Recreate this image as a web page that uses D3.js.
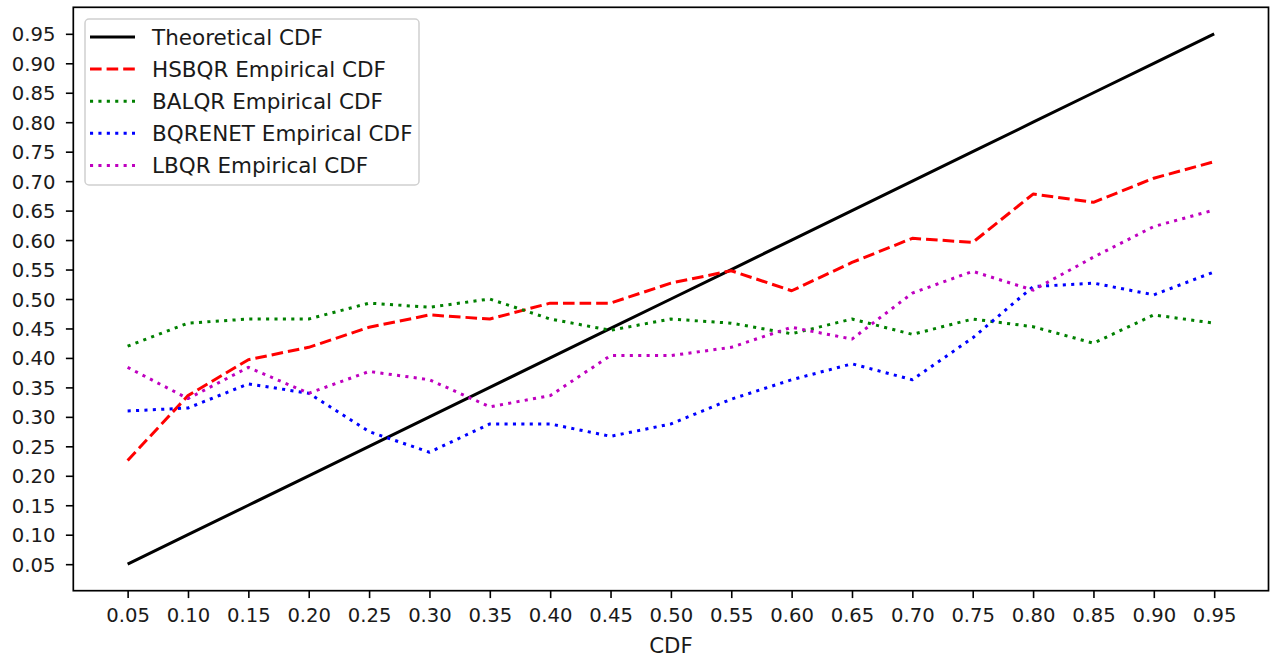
<!DOCTYPE html>
<html>
<head>
<meta charset="utf-8">
<script src="https://cdn.jsdelivr.net/npm/d3@7"></script>
<style>
  html, body { margin: 0; padding: 0; background: #fff; }
  svg { display: block; font-family: "DejaVu Sans", sans-serif; }
</style>
</head>
<body>
<svg id="chart" width="1273" height="661"></svg>
<script>
// ---- data ----
const cdfLevels = [0.05, 0.10, 0.15, 0.20, 0.25, 0.30, 0.35, 0.40, 0.45, 0.50,
                   0.55, 0.60, 0.65, 0.70, 0.75, 0.80, 0.85, 0.90, 0.95];
const theoretical = [0.05, 0.10, 0.15, 0.20, 0.25, 0.30, 0.35, 0.40, 0.45, 0.50,
                     0.55, 0.60, 0.65, 0.70, 0.75, 0.80, 0.85, 0.90, 0.95];
const hsbqr = [0.226, 0.336, 0.397, 0.418, 0.452, 0.473, 0.466, 0.493, 0.493, 0.527,
               0.548, 0.514, 0.562, 0.603, 0.596, 0.678, 0.664, 0.705, 0.733];
const balqr = [0.420, 0.459, 0.466, 0.466, 0.493, 0.486, 0.500, 0.466, 0.447, 0.466,
               0.459, 0.441, 0.466, 0.440, 0.466, 0.453, 0.425, 0.473, 0.459];
const bqrenet = [0.310, 0.315, 0.356, 0.340, 0.275, 0.240, 0.288, 0.288, 0.267, 0.288,
                 0.330, 0.363, 0.390, 0.363, 0.434, 0.521, 0.527, 0.507, 0.546];
const lbqr = [0.384, 0.331, 0.384, 0.340, 0.377, 0.363, 0.317, 0.336, 0.404, 0.404,
              0.418, 0.452, 0.432, 0.510, 0.547, 0.515, 0.571, 0.623, 0.651];
const xTickLabels = ["0.05","0.10","0.15","0.20","0.25","0.30","0.35","0.40","0.45","0.50",
                     "0.55","0.60","0.65","0.70","0.75","0.80","0.85","0.90","0.95"];
const yTickLabels = xTickLabels;
const seriesNames = ["Theoretical CDF", "HSBQR Empirical CDF", "BALQR Empirical CDF",
                     "BQRENET Empirical CDF", "LBQR Empirical CDF"];
const xLabel = "CDF";

// ---- styles ----
const series = [
  { name: seriesNames[0], values: theoretical, color: "#000000", dash: null },
  { name: seriesNames[1], values: hsbqr, color: "#ff0000", dash: "11.6,5" },
  { name: seriesNames[2], values: balqr, color: "#008000", dash: "3.1,5.3" },
  { name: seriesNames[3], values: bqrenet, color: "#0000ff", dash: "3.1,5.3" },
  { name: seriesNames[4], values: lbqr, color: "#bf00bf", dash: "3.1,5.3" }
];

const m = { left: 73.3, right: 1268.5, top: 7.3, bottom: 590.7 };
const svg = d3.select("#chart");

const x = d3.scaleLinear().domain([0.005, 0.995]).range([m.left, m.right]);
const y = d3.scaleLinear().domain([0.005, 0.995]).range([m.bottom, m.top]);

const tickLen = 7.4;

// axes
const xAxis = d3.axisBottom(x)
  .tickValues(cdfLevels)
  .tickFormat((d, i) => xTickLabels[i])
  .tickSize(tickLen).tickSizeOuter(0).tickPadding(7);
const yAxis = d3.axisLeft(y)
  .tickValues(cdfLevels)
  .tickFormat((d, i) => yTickLabels[i])
  .tickSize(tickLen).tickSizeOuter(0).tickPadding(10.5);

const gx = svg.append("g").attr("transform", `translate(0,${m.bottom})`).call(xAxis);
const gy = svg.append("g").attr("transform", `translate(${m.left},0)`).call(yAxis);
[gx, gy].forEach(g => {
  g.select(".domain").remove();
  g.selectAll(".tick line").attr("stroke", "#000").attr("stroke-width", 1.6);
  g.selectAll(".tick text").attr("fill", "#1a1a1a").style("font-size", "19.6px")
    .style("font-family", "DejaVu Sans");
});
gx.selectAll(".tick text").attr("dy", null).attr("y", 31.3);
gy.selectAll(".tick text").attr("dy", "0.36em");

// lines
const line = d3.line().x((d, i) => x(cdfLevels[i])).y(d => y(d));
const plot = svg.append("g");
series.forEach(s => {
  plot.append("path")
    .datum(s.values)
    .attr("d", line)
    .attr("fill", "none")
    .attr("stroke", s.color)
    .attr("stroke-width", 3.0)
    .attr("stroke-dasharray", s.dash)
    .attr("stroke-linecap", "butt")
    .attr("stroke-linejoin", "round");
});

// frame
svg.append("rect")
  .attr("x", m.left).attr("y", m.top)
  .attr("width", m.right - m.left).attr("height", m.bottom - m.top)
  .attr("fill", "none").attr("stroke", "#000").attr("stroke-width", 1.7);

// x label
svg.append("text")
  .attr("x", (m.left + m.right) / 2).attr("y", 653.3)
  .attr("text-anchor", "middle")
  .attr("fill", "#1a1a1a")
  .style("font-size", "21.3px")
  .text(xLabel);

// legend
const lg = svg.append("g");
lg.append("rect")
  .attr("x", 85).attr("y", 19).attr("width", 334).attr("height", 166)
  .attr("rx", 4).attr("ry", 4)
  .attr("fill", "#fff").attr("fill-opacity", 0.8)
  .attr("stroke", "#d0d0d0").attr("stroke-width", 1.5);
series.forEach((s, i) => {
  const cy = 37 + i * 32.1;
  lg.append("line")
    .attr("x1", 90).attr("x2", 135).attr("y1", cy).attr("y2", cy)
    .attr("stroke", s.color).attr("stroke-width", 3.0)
    .attr("stroke-dasharray", s.dash);
  lg.append("text")
    .attr("x", 152).attr("y", cy + 7.8)
    .attr("fill", "#1a1a1a")
    .style("font-size", "21.5px")
    .text(s.name);
});
</script>
</body>
</html>
